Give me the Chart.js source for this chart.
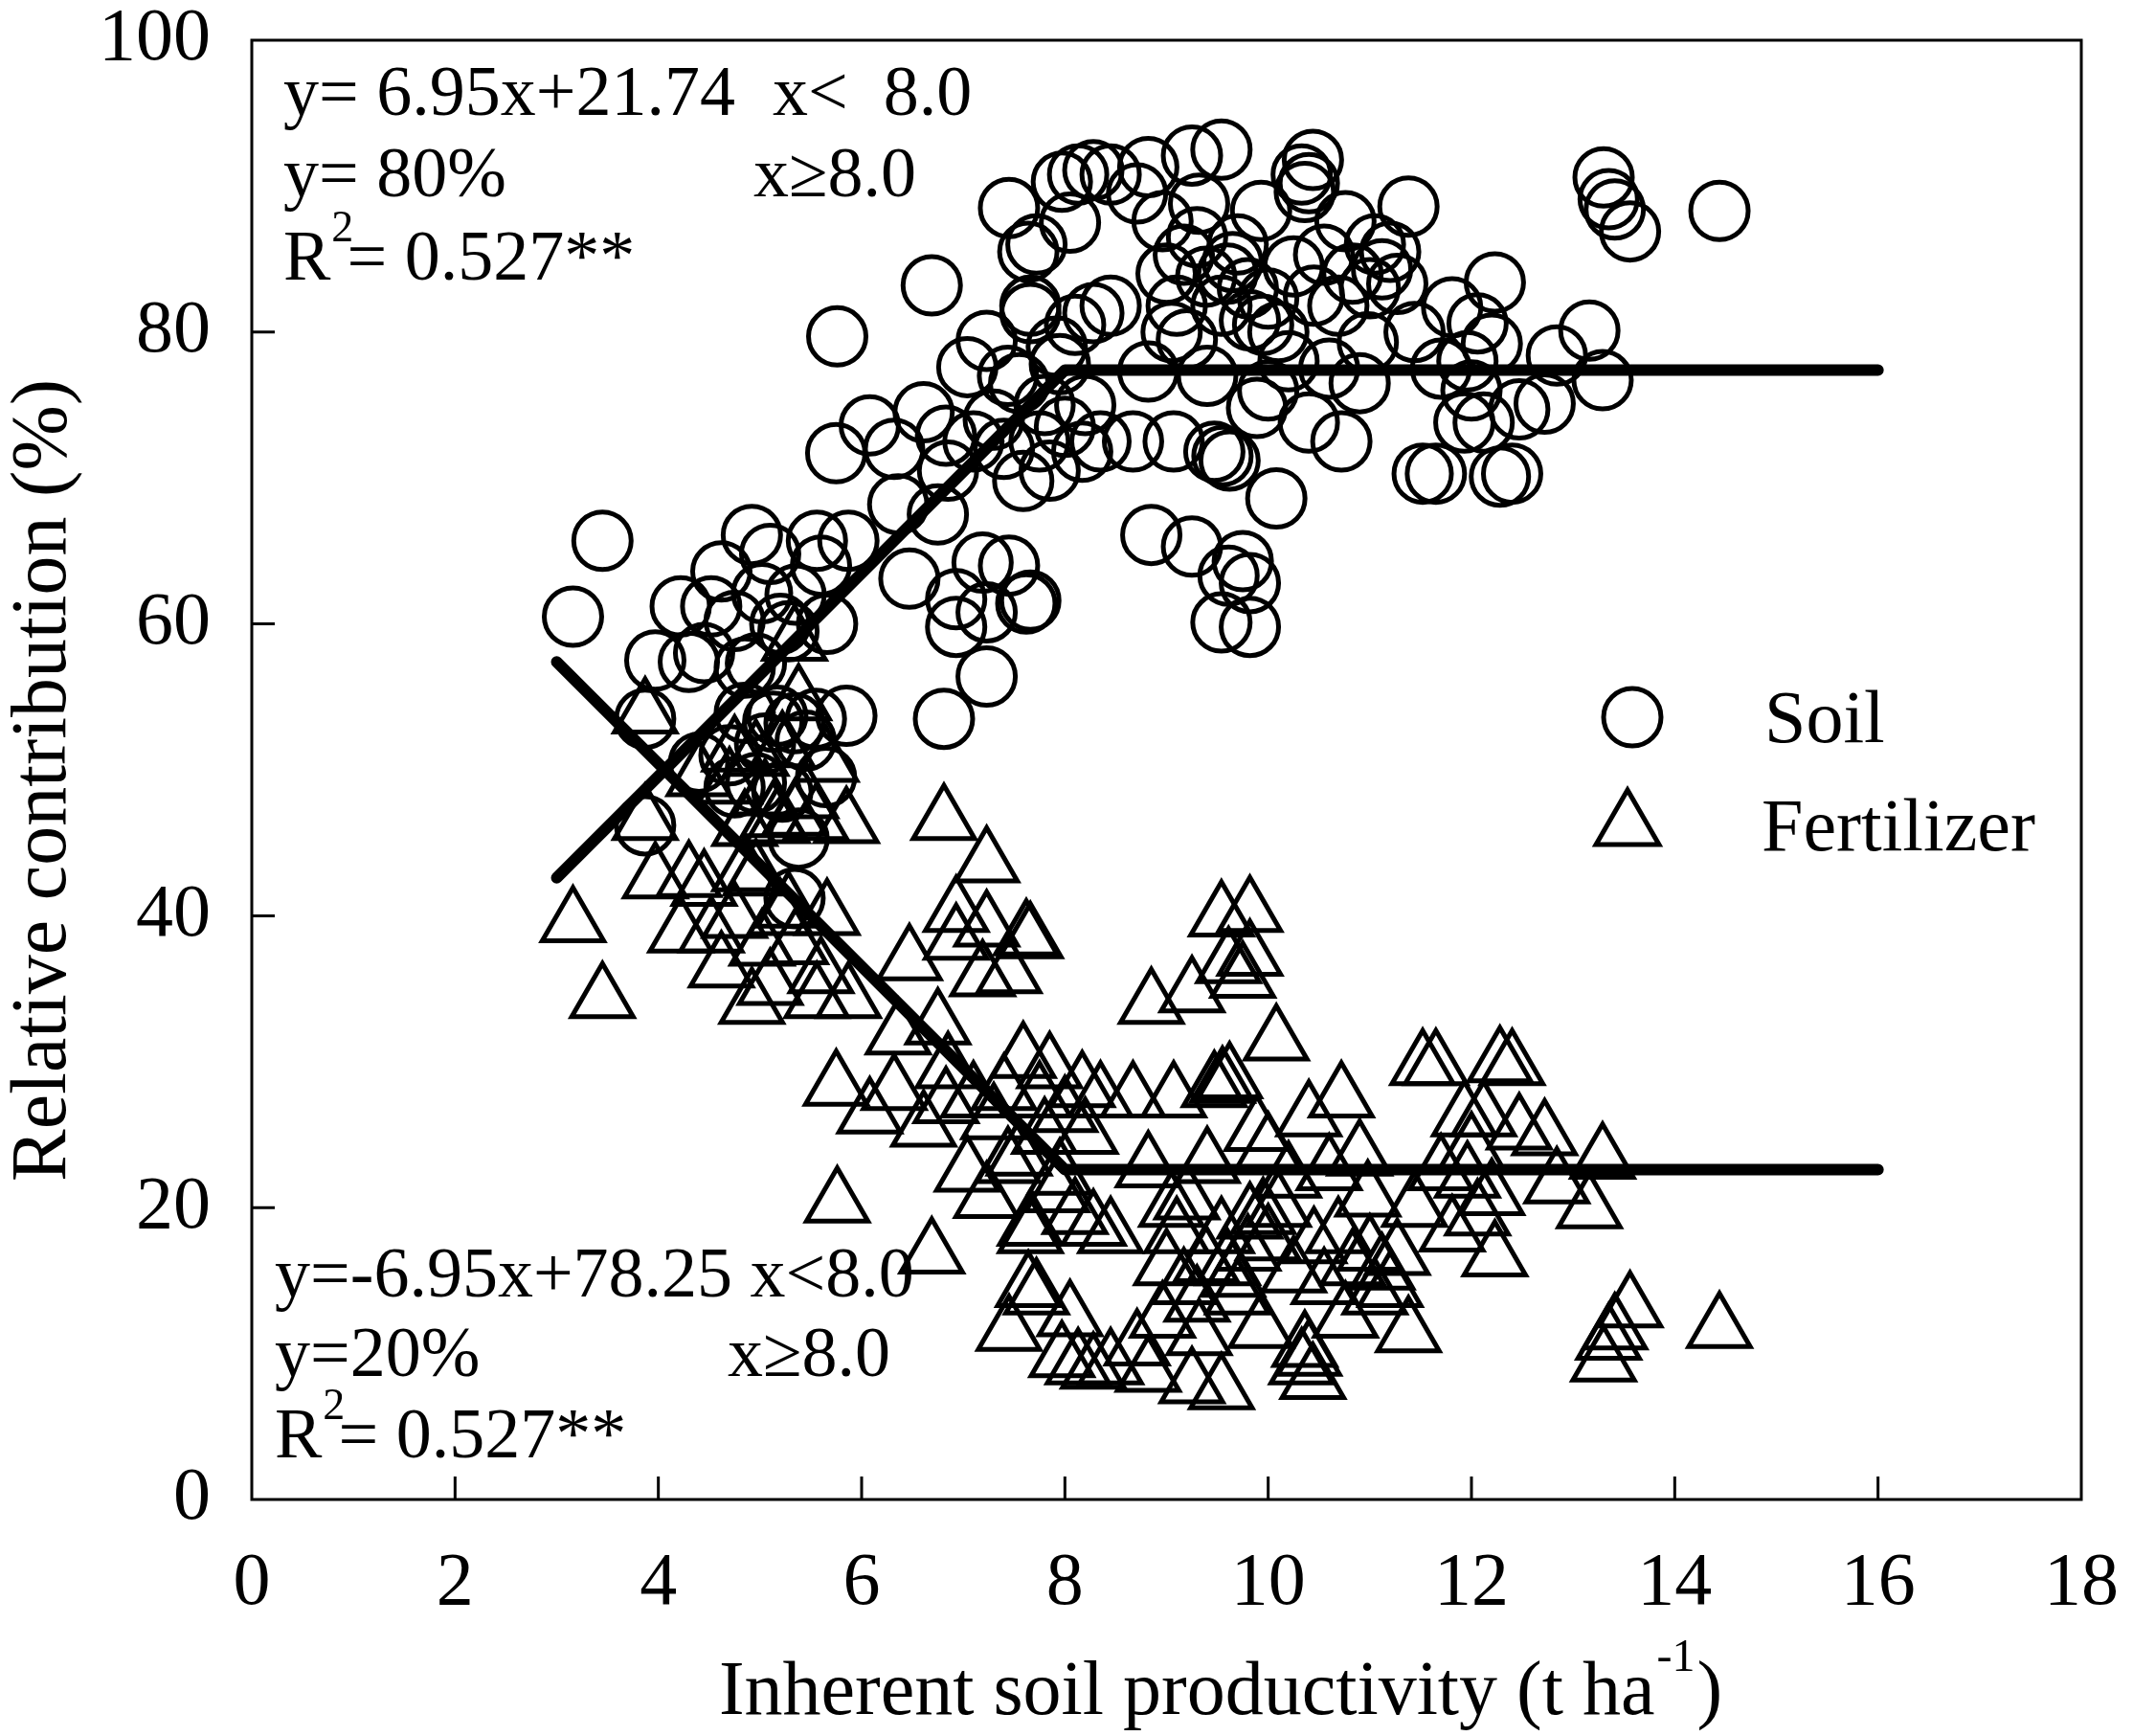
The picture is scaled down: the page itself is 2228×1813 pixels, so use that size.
<!DOCTYPE html>
<html><head><meta charset="utf-8">
<script src="https://cdn.jsdelivr.net/npm/chart.js@4.4.0/dist/chart.umd.min.js"></script>
<style>html,body{margin:0;padding:0;background:#fff;} #wrap{width:2228px;height:1813px;}</style>
</head><body><div id="wrap"><canvas id="c" width="2228" height="1813"></canvas></div>
<script>
// ---- data ----
const soil = [
[3.16,60.5],[3.45,65.7],[3.87,53.5],[3.87,46.2],[3.97,57.5],[4.30,57.4],[4.45,58.0],[4.22,61.2],[4.40,50.5],[4.52,61.2],
[4.62,63.6],[4.92,66.1],[4.75,60.2],[5.02,62.1],[4.85,57.0],[4.96,57.3],[4.75,48.8],[4.96,49.1],[5.22,48.5],[5.38,45.3],
[5.34,41.2],[5.17,53.7],[5.34,53.2],[5.13,53.3],[4.85,53.9],[5.05,51.8],[5.20,60.0],[5.35,62.0],[5.28,59.5],[5.10,64.8],
[4.70,51.0],[5.45,52.0],[5.55,53.5],[5.85,53.7],[5.56,65.7],[5.87,65.7],[5.66,60.0],[5.76,79.7],[5.75,71.7],[6.08,73.6],
[6.32,72.0],[6.36,68.2],[6.47,63.1],[5.60,64.0],[5.65,49.5],[6.61,74.5],[6.69,83.2],[6.83,72.9],[6.75,67.5],[6.93,61.7],
[6.93,59.8],[6.81,53.5],[7.23,56.4],[7.19,64.2],[7.04,77.6],[7.23,79.4],[7.44,77.0],[7.62,61.4],[7.45,88.5],[7.64,85.5],
[7.72,86.0],[7.66,81.3],[7.45,64.0],[7.23,60.8],[7.66,61.6],[7.10,72.5],[6.85,70.5],[7.30,74.0],[7.55,76.5],[7.40,72.0],
[7.75,72.5],[7.59,69.8],[7.80,75.0],[7.97,90.3],[8.13,90.8],[8.28,91.1],[8.45,90.8],[8.05,87.5],[8.17,71.8],[8.28,81.3],
[8.45,81.8],[7.66,81.8],[7.92,79.0],[8.10,80.5],[8.00,73.5],[7.85,70.5],[8.35,72.5],[7.95,77.8],[8.20,75.0],[8.71,89.5],
[8.82,91.3],[8.96,87.6],[9.25,92.1],[9.32,88.8],[9.17,85.3],[9.10,81.8],[9.39,83.8],[9.54,81.8],[8.82,77.3],[8.67,72.5],
[9.07,72.5],[9.47,71.8],[9.55,71.5],[9.62,71.2],[8.85,66.1],[9.25,65.3],[9.05,80.0],[9.30,86.5],[9.20,79.5],[9.40,77.0],
[9.00,84.0],[9.54,92.5],[9.65,84.8],[9.82,80.8],[10.00,82.3],[9.93,88.3],[10.33,90.8],[10.36,89.6],[10.44,91.8],[10.40,90.2],
[9.75,64.3],[9.61,63.3],[9.82,62.8],[9.54,60.1],[9.82,59.8],[10.08,68.6],[9.89,74.8],[10.40,73.8],[9.70,86.0],[9.80,83.0],
[10.10,80.0],[10.00,76.0],[10.20,78.0],[9.95,80.5],[10.25,84.5],[9.60,84.0],[10.45,82.5],[10.55,85.3],[10.76,87.6],[10.83,84.0],
[10.69,81.8],[10.98,79.3],[11.12,84.3],[11.27,83.3],[11.38,88.6],[11.44,80.0],[10.72,72.5],[10.60,77.5],[11.05,86.0],[11.20,85.5],
[10.90,76.5],[11.00,83.0],[11.52,70.3],[11.81,81.7],[12.06,80.6],[12.23,83.4],[11.93,73.8],[12.47,74.7],[12.28,70.1],[12.40,70.3],
[11.70,77.5],[11.96,78.0],[12.20,79.2],[12.12,73.8],[12.72,75.1],[12.84,78.4],[12.00,76.0],[11.65,70.3],[13.16,80.1],[13.30,90.6],
[13.35,89.1],[13.41,88.4],[13.56,86.9],[13.29,76.7],[14.44,88.3]
];
const fertilizer = [
[3.16,39.5],[3.45,34.3],[3.87,46.5],[3.87,53.8],[3.97,42.5],[4.30,42.6],[4.45,42.0],[4.22,38.8],[4.40,49.5],[4.52,38.8],
[4.62,36.4],[4.92,33.9],[4.75,39.8],[5.02,37.9],[4.85,43.0],[4.96,42.7],[4.75,51.2],[4.96,50.9],[5.22,51.5],[5.38,54.7],
[5.34,58.8],[5.17,46.3],[5.34,46.8],[5.13,46.7],[4.85,46.1],[5.05,48.2],[5.20,40.0],[5.35,38.0],[5.28,40.5],[5.10,35.2],
[4.70,49.0],[5.45,48.0],[5.55,46.5],[5.85,46.3],[5.56,34.3],[5.87,34.3],[5.66,40.0],[5.76,20.3],[5.75,28.3],[6.08,26.4],
[6.32,28.0],[6.36,31.8],[6.47,36.9],[5.60,36.0],[5.65,50.5],[6.61,25.5],[6.69,16.8],[6.83,27.1],[6.75,32.5],[6.93,38.3],
[6.93,40.2],[6.81,46.5],[7.23,43.6],[7.19,35.8],[7.04,22.4],[7.23,20.6],[7.44,23.0],[7.62,38.6],[7.45,11.5],[7.64,14.5],
[7.72,14.0],[7.66,18.7],[7.45,36.0],[7.23,39.2],[7.66,38.4],[7.10,27.5],[6.85,29.5],[7.30,26.0],[7.55,23.5],[7.40,28.0],
[7.75,27.5],[7.59,30.2],[7.80,25.0],[7.97,9.7],[8.13,9.2],[8.28,8.9],[8.45,9.2],[8.05,12.5],[8.17,28.2],[8.28,18.7],
[8.45,18.2],[7.66,18.2],[7.92,21.0],[8.10,19.5],[8.00,26.5],[7.85,29.5],[8.35,27.5],[7.95,22.2],[8.20,25.0],[8.71,10.5],
[8.82,8.7],[8.96,12.4],[9.25,7.9],[9.32,11.2],[9.17,14.7],[9.10,18.2],[9.39,16.2],[9.54,18.2],[8.82,22.7],[8.67,27.5],
[9.07,27.5],[9.47,28.2],[9.55,28.5],[9.62,28.8],[8.85,33.9],[9.25,34.7],[9.05,20.0],[9.30,13.5],[9.20,20.5],[9.40,23.0],
[9.00,16.0],[9.54,7.5],[9.65,15.2],[9.82,19.2],[10.00,17.7],[9.93,11.7],[10.33,9.2],[10.36,10.4],[10.44,8.2],[10.40,9.8],
[9.75,35.7],[9.61,36.7],[9.82,37.2],[9.54,39.9],[9.82,40.2],[10.08,31.4],[9.89,25.2],[10.40,26.2],[9.70,14.0],[9.80,17.0],
[10.10,20.0],[10.00,24.0],[10.20,22.0],[9.95,19.5],[10.25,15.5],[9.60,16.0],[10.45,17.5],[10.55,14.7],[10.76,12.4],[10.83,16.0],
[10.69,18.2],[10.98,20.7],[11.12,15.7],[11.27,16.7],[11.38,11.4],[11.44,20.0],[10.72,27.5],[10.60,22.5],[11.05,14.0],[11.20,14.5],
[10.90,23.5],[11.00,17.0],[11.52,29.7],[11.81,18.3],[12.06,19.4],[12.23,16.6],[11.93,26.2],[12.47,25.3],[12.28,29.9],[12.40,29.7],
[11.70,22.5],[11.96,22.0],[12.20,20.8],[12.12,26.2],[12.72,24.9],[12.84,21.6],[12.00,24.0],[11.65,29.7],[13.16,19.9],[13.30,9.4],
[13.35,10.9],[13.41,11.6],[13.56,13.1],[13.29,23.3],[14.44,11.7]
];
const soilFitX = [3, 8, 16];
const soilFitY = [42.6, 77.4, 77.4];
const fertFitX = [3, 8, 16];
const fertFitY = [57.4, 22.6, 22.6];
const xTickValues = [0, 2, 4, 6, 8, 10, 12, 14, 16, 18];
const yTickValues = [0, 20, 40, 60, 80, 100];
const seriesNames = ['Soil', 'Fertilizer'];
const xTitle = ['Inherent soil productivity (t ha', '-1', ')'];
const yTitle = 'Relative contribution (%)';
const soilEq = ['y= 6.95x+21.74', 'x<  8.0', 'y= 80%', 'x\u22658.0', '= 0.527**'];
const fertEq = ['y=-6.95x+78.25 x<8.0', 'y=20%', 'x\u22658.0', '= 0.527**'];

// ---- drawing ----
const FONT = '"Liberation Serif", "Times New Roman", serif';
const f = (s) => s + 'px ' + FONT;

function drawR2(ctx, x, base, rest) {
  ctx.font = f(74); ctx.fillText('R', x, base);
  const wR = ctx.measureText('R').width;
  ctx.font = f(46); ctx.fillText('2', x + wR + 1, base - 40);
  const w2 = ctx.measureText('2').width;
  ctx.font = f(74); ctx.fillText(rest, x + wR + w2 * 0.75, base);
}

const decor = {
  id: 'decor',
  afterDatasetsDraw(chart) {
    const { ctx, chartArea: a, scales: { x, y } } = chart;
    ctx.save();
    ctx.strokeStyle = '#000'; ctx.fillStyle = '#000';
    ctx.lineWidth = 3;
    ctx.strokeRect(a.left, a.top, a.right - a.left, a.bottom - a.top);
    ctx.beginPath();
    xTickValues.slice(1, -1).forEach(v => { const px = x.getPixelForValue(v); ctx.moveTo(px, a.bottom); ctx.lineTo(px, a.bottom - 24); });
    yTickValues.slice(1, -1).forEach(v => { const py = y.getPixelForValue(v); ctx.moveTo(a.left, py); ctx.lineTo(a.left + 24, py); });
    ctx.stroke();

    ctx.textAlign = 'left'; ctx.textBaseline = 'alphabetic';
    // soil equation block
    ctx.font = f(74);
    ctx.fillText(soilEq[0], a.left + 33, 120);
    ctx.fillText(soilEq[1], a.left + 544, 120);
    ctx.fillText(soilEq[2], a.left + 33, 205);
    ctx.fillText(soilEq[3], a.left + 524, 205);
    drawR2(ctx, a.left + 33, 292, soilEq[4]);
    // fertilizer equation block
    ctx.font = f(74);
    ctx.fillText(fertEq[0], a.left + 24, 1354);
    ctx.fillText(fertEq[1], a.left + 24, 1437);
    ctx.fillText(fertEq[2], a.left + 497, 1437);
    drawR2(ctx, a.left + 24, 1522, fertEq[3]);

    // legend
    ctx.lineWidth = 5;
    ctx.beginPath(); ctx.arc(1705, 749, 30, 0, Math.PI * 2); ctx.stroke();
    const tr = 38, tx = 1700, ty = 863;
    ctx.beginPath();
    ctx.moveTo(tx, ty - tr);
    ctx.lineTo(tx + tr * Math.sin(2 * Math.PI / 3), ty - tr * Math.cos(2 * Math.PI / 3));
    ctx.lineTo(tx + tr * Math.sin(4 * Math.PI / 3), ty - tr * Math.cos(4 * Math.PI / 3));
    ctx.closePath(); ctx.stroke();
    ctx.font = f(78);
    ctx.fillText(seriesNames[0], 1843, 775);
    ctx.fillText(seriesNames[1], 1840, 888);

    // x title
    ctx.font = f(80);
    const w1 = ctx.measureText(xTitle[0]).width;
    const w3 = ctx.measureText(xTitle[2]).width;
    ctx.font = f(48);
    const w2 = ctx.measureText(xTitle[1]).width;
    const total = w1 + w2 + w3 + 4;
    let sx = 1275 - total / 2;
    ctx.font = f(80); ctx.fillText(xTitle[0], sx, 1790);
    ctx.font = f(48); ctx.fillText(xTitle[1], sx + w1 + 2, 1745);
    ctx.font = f(80); ctx.fillText(xTitle[2], sx + w1 + w2 + 4, 1790);

    // y title
    ctx.save();
    ctx.translate(68, 815); ctx.rotate(-Math.PI / 2);
    ctx.textAlign = 'center'; ctx.font = f(82);
    ctx.fillText(yTitle, 0, 0);
    ctx.restore();
    ctx.restore();
  }
};

const toPts = (arr) => arr.map(p => ({ x: p[0], y: p[1] }));
const zipPts = (xs, ys) => xs.map((v, i) => ({ x: v, y: ys[i] }));
const noPad = (s) => { s.paddingTop = 0; s.paddingBottom = 0; s.paddingLeft = 0; s.paddingRight = 0; };

new Chart(document.getElementById('c'), {
  type: 'scatter',
  data: {
    datasets: [
      { label: 'Soil fit', data: zipPts(soilFitX, soilFitY), showLine: true, borderColor: '#000', borderWidth: 12, borderCapStyle: 'round', borderJoinStyle: 'round', pointRadius: 0, fill: false, order: 0 },
      { label: 'Fertilizer fit', data: zipPts(fertFitX, fertFitY), showLine: true, borderColor: '#000', borderWidth: 12, borderCapStyle: 'round', borderJoinStyle: 'round', pointRadius: 0, fill: false, order: 0 },
      { label: seriesNames[0], data: toPts(soil), pointStyle: 'circle', pointRadius: 30, pointBorderWidth: 5, borderColor: '#000', backgroundColor: 'rgba(0,0,0,0)', order: 2 },
      { label: seriesNames[1], data: toPts(fertilizer), pointStyle: 'triangle', pointRadius: 37, pointBorderWidth: 5, borderColor: '#000', backgroundColor: 'rgba(0,0,0,0)', order: 1 }
    ]
  },
  options: {
    responsive: false, animation: false, devicePixelRatio: 1, events: [],
    layout: { padding: { top: 36, right: 54, left: 0, bottom: 0 } },
    plugins: { legend: { display: false }, tooltip: { enabled: false } },
    scales: {
      x: {
        type: 'linear', min: 0, max: 18,
        ticks: { stepSize: 2, color: '#000', font: { family: FONT, size: 78 }, padding: 42, maxRotation: 0, autoSkip: false },
        grid: { display: false, drawTicks: false }, border: { display: false },
        afterFit(s) { s.height = 247; noPad(s); }
      },
      y: {
        type: 'linear', min: 0, max: 100,
        ticks: { stepSize: 20, color: '#000', font: { family: FONT, size: 78 }, padding: 43 },
        grid: { display: false, drawTicks: false }, border: { display: false },
        afterFit(s) { s.width = 263; noPad(s); }
      }
    }
  },
  plugins: [decor]
});
</script></body></html>
